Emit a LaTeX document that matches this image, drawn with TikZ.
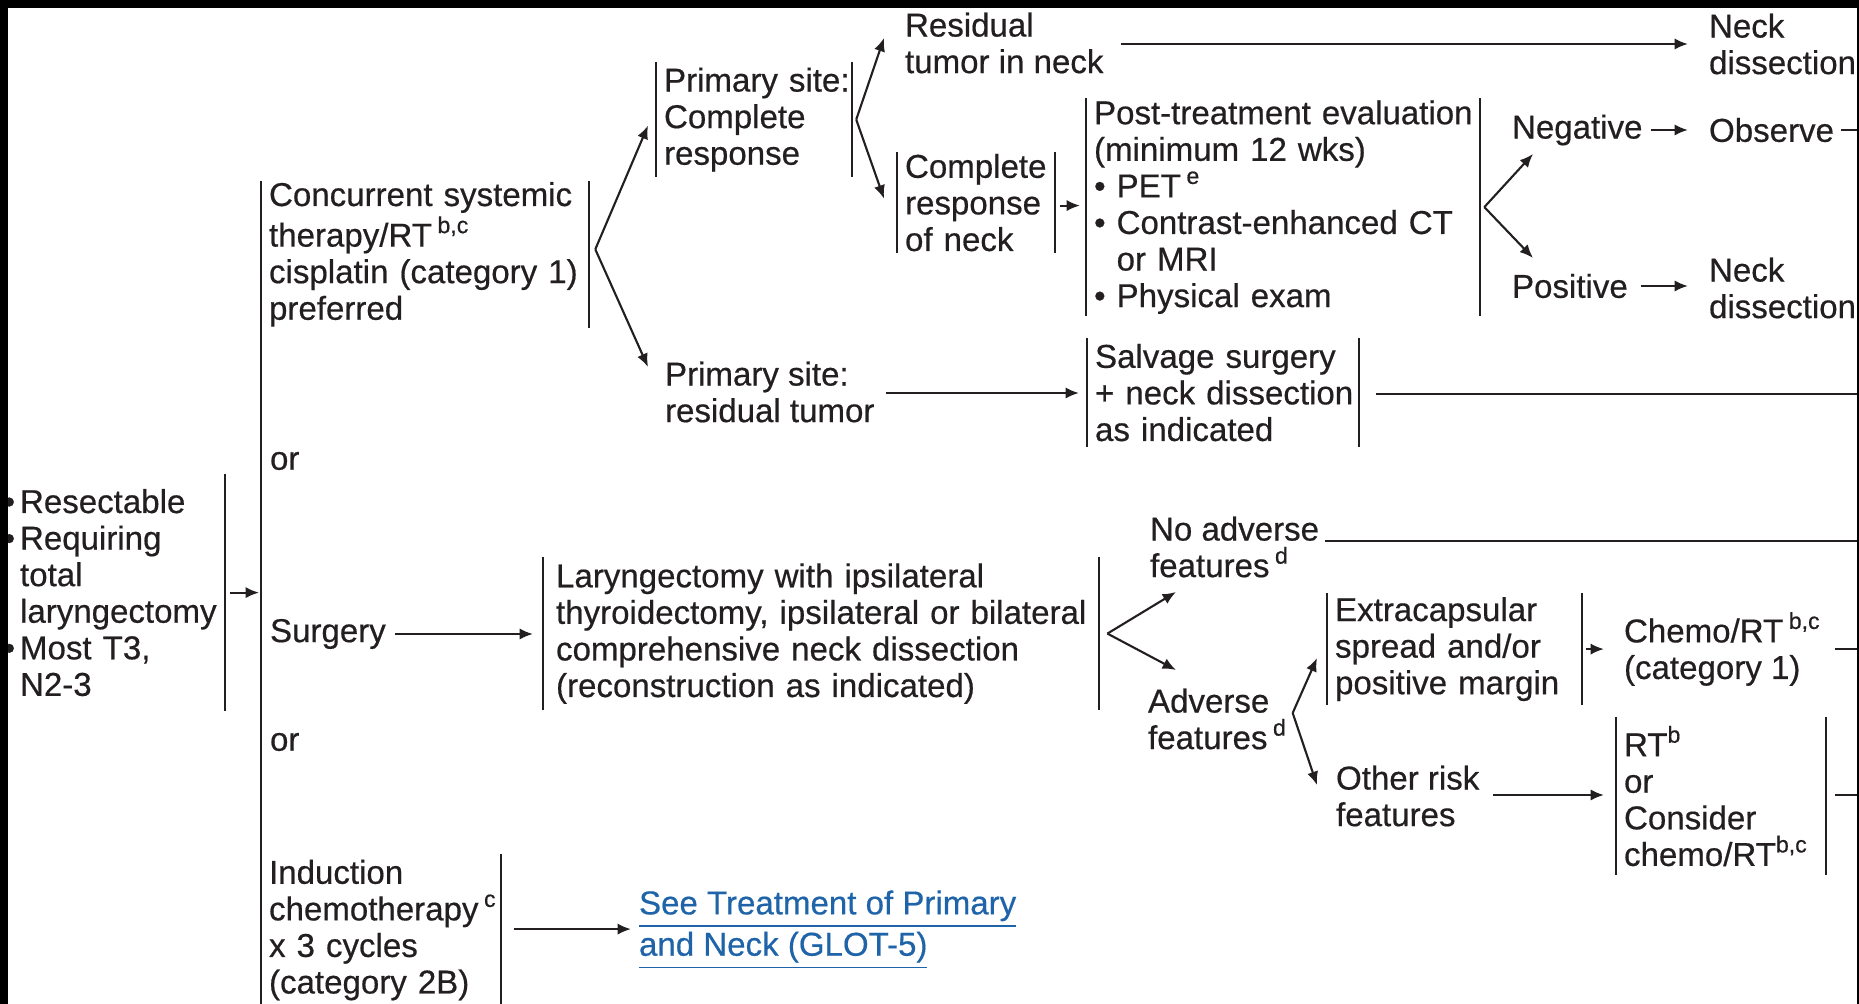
\documentclass[tikz,border=0pt]{standalone}
\usepackage{fontspec}
\setmainfont{Liberation Sans}[FakeBold=0.5]
\usetikzlibrary{calc,arrows.meta}
\definecolor{ink}{HTML}{231F20}
\definecolor{linkblue}{HTML}{1F64A8}
\newcommand{\pbul}{\leavevmode\llap{\textbullet\hspace{0.15em}}}
\exhyphenpenalty=10000
\hyphenpenalty=10000

\begin{document}
\begin{tikzpicture}[x=0.01cm,y=-0.01cm,color=ink,line width=0.6pt,
	txt/.style={font=\fontsize{9.4}{10.4}\selectfont, align=left, inner sep=0pt, anchor=west},
	brk/.style={txt, anchor=north west, inner xsep=0.07cm, inner ysep=0pt},
	arr/.style={-{Latex[length=3.8pt,width=3.2pt]}}]
	\useasboundingbox (0,0) rectangle (1859,1004);
	\coordinate (edge) at (1859,0);
	\coordinate (trunkend) at (261,1010);
	% start and the three options
	\node [brk, text width=1.97cm, minimum height=2.35cm] (pres) at (12,474) {\pbul Resectable\\\pbul Requiring\\total\\laryngectomy\\\pbul Most T3,\\N2-3};
	\node [brk, text width=3.12cm, minimum height=1.40cm] (concur) at (261,181) {Concurrent systemic\\therapy/RT\,\textsuperscript{b,c}\\cisplatin (category~1)\\preferred};
	\node [txt] (or1) at (269,461) {or};
	\node [txt] (surg) at (269,634) {Surgery};
	\node [txt] (or2) at (269,742) {or};
	\node [brk, text width=2.24cm, minimum height=1.50cm] (induc) at (261,854) {Induction\\chemotherapy\,\textsuperscript{c}\\x 3 cycles\\(category 2B)};
	\node [txt, text=linkblue] (link) at (638,930) {\underline{See Treatment of Primary}\\\underline{and Neck (GLOT-5)}};
	% concurrent branch
	\node [brk, text width=1.80cm, minimum height=1.13cm] (primcr) at (656,62) {Primary~site:\\Complete\\response};
	\node [txt] (resid) at (904,43) {Residual\\tumor in neck};
	\node [txt] (neckd1) at (1708,44) {Neck\\dissection};
	\node [brk, text width=1.42cm, minimum height=0.99cm] (cneck) at (897,152) {Complete\\response\\of neck};
	\node [brk, text width=3.78cm, minimum height=2.16cm] (post) at (1086,98) {Post-treatment~evaluation\\(minimum 12 wks)\\\textbullet\ PET\,\textsuperscript{e}\\\textbullet\ Contrast-enhanced~CT\\\hphantom{\textbullet\ }or MRI\\\textbullet\ Physical exam};
	\node [txt] (neg) at (1511,130) {Negative};
	\node [txt] (obs) at (1708,130) {Observe};
	\node [txt] (pos) at (1511,286) {Positive};
	\node [txt] (neckd2) at (1708,288) {Neck\\dissection};
	\node [txt] (primres) at (664,392) {Primary site:\\residual tumor};
	\node [brk, text width=2.56cm, minimum height=1.07cm] (salv) at (1087,338) {Salvage surgery\\+~neck~dissection\\as indicated};
	% surgery branch
	\node [brk, inner xsep=0.12cm, text width=5.30cm, minimum height=1.51cm] (lary) at (543,557) {Laryngectomy with ipsilateral\\thyroidectomy,~ipsilateral~or~bilateral\\comprehensive neck dissection\\(reconstruction as indicated)};
	\node [txt] (noadv) at (1149,547) {No adverse\\features\,\textsuperscript{d}};
	\node [txt] (adv) at (1147,719) {Adverse\\features\,\textsuperscript{d}};
	\node [brk, text width=2.39cm, minimum height=1.10cm] (ext) at (1327,593) {Extracapsular\\spread and/or\\positive margin};
	\node [txt] (chemo) at (1623,649) {Chemo/RT\,\textsuperscript{b,c}\\(category 1)};
	\node [txt] (other) at (1335,796) {Other risk\\features};
	\node [brk, text width=1.94cm, minimum height=1.56cm] (rtbox) at (1616,717) {RT\textsuperscript{b}\\or\\Consider\\chemo/RT\textsuperscript{b,c}};
	% bars
	\foreach \n in {concur,primcr,cneck,post,salv,lary,induc,ext,rtbox}
		\draw (\n.north west) -- (\n.south west) (\n.north east) -- (\n.south east);
	\draw (pres.north east) -- (pres.south east);
	\draw (concur.north west) -- (trunkend);
	% connectors
	\draw[arr] ($(pres.east)+(5,0)$) -- ($(pres.east -| concur.west)+(-2,0)$);
	\draw[arr] ($(surg.east)+(8,0)$) -- ($(surg.east -| lary.west)+(-10,0)$);
	\draw[arr] ($(induc.east)+(13,-1)$) -- ($(induc.east -| link.west)+(-7,-1)$);
	\draw[arr] ($(concur.east)+(6,-5)$) -- ($(primcr.west)+(-8,6)$);
	\draw[arr] ($(concur.east)+(6,-5)$) -- ($(primres.west)+(-16,-25)$);
	\draw[arr] ($(primcr.east)+(4,0)$) -- ($(resid.west)+(-20,-5)$);
	\draw[arr] ($(primcr.east)+(4,0)$) -- ($(cneck.west)+(-13,-4)$);
	\draw[arr] ($(resid.east)+(16,1)$) -- ($(resid.east -| neckd1.west)+(-20,1)$);
	\draw[arr] ($(cneck.east)+(5,3)$) -- ($(cneck.east -| post.west)+(-6,3)$);
	\draw[arr] ($(post.east)+(4,0)$) -- ($(neg.west)+(22,24)$);
	\draw[arr] ($(post.east)+(4,0)$) -- ($(pos.west)+(22,-28)$);
	\draw[arr] ($(neg.east)+(7,0)$) -- ($(obs.west)+(-20,0)$);
	\draw ($(obs.east)+(6,0)$) -- (obs.east -| edge);
	\draw[arr] ($(pos.east)+(12,0)$) -- ($(pos.east -| neckd2.west)+(-20,0)$);
	\draw[arr] ($(primres.east)+(10,1)$) -- ($(primres.east -| salv.west)+(-8,1)$);
	\draw ($(salv.east)+(17,1)$) -- ($(salv.east -| edge)+(0,1)$);
	\draw[arr] ($(lary.east)+(8,0)$) -- ($(noadv.west)+(27,45)$);
	\draw[arr] ($(lary.east)+(8,0)$) -- ($(adv.west)+(29,-49)$);
	\draw ($(noadv.east)+(5,-6)$) -- ($(noadv.east -| edge)+(0,-6)$);
	\draw[arr] ($(adv.east)+(4,-6)$) -- ($(ext.west)+(-10,9)$);
	\draw[arr] ($(adv.east)+(4,-6)$) -- ($(other.west)+(-18,-11)$);
	\draw[arr] ($(ext.east)+(4,0)$) -- ($(ext.east -| chemo.west)+(-19,0)$);
	\draw ($(chemo.west -| rtbox.east)+(9,0)$) -- (chemo.west -| edge);
	\draw[arr] ($(other.east)+(13,-1)$) -- ($(other.east -| rtbox.west)+(-12,-1)$);
	\draw ($(other.east -| rtbox.east)+(9,-1)$) -- ($(other.east -| edge)+(0,-1)$);
	% frame
	\fill[black] (0,0) rectangle (1859,8) (0,0) rectangle (8,1004) (1857,0) rectangle (1859,1004);
\end{tikzpicture}
\end{document}
